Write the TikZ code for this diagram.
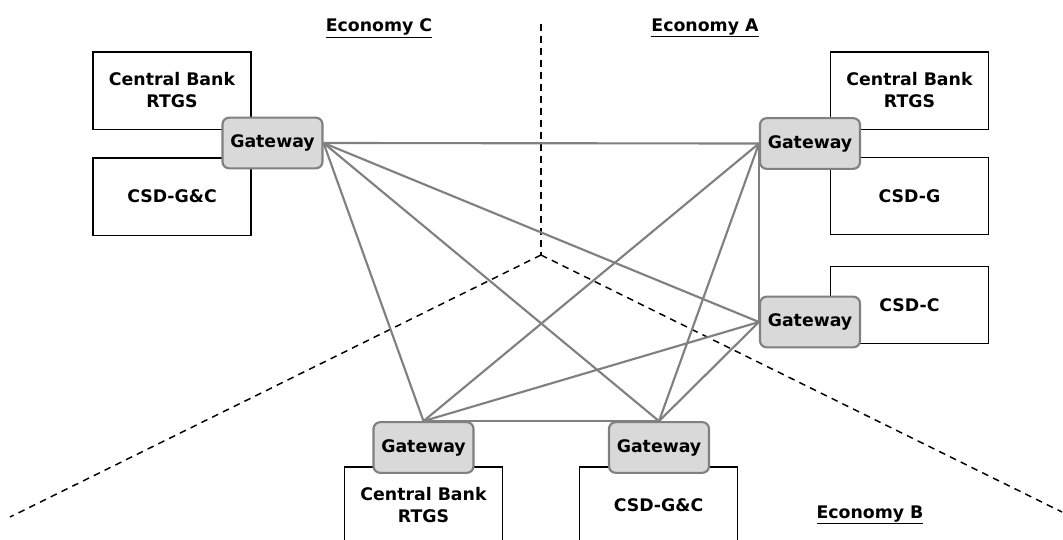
\documentclass[tikz,border=0pt]{standalone}
\usepackage{fontspec}
\setmainfont{DejaVu Sans}
\usetikzlibrary{positioning}
\definecolor{gwfill}{HTML}{D9D9D9}
\definecolor{gwline}{HTML}{808080}
\tikzset{font=\bfseries\fontsize{13}{16.5}\selectfont}
\tikzset{sysbox/.style={draw=black, line width=1pt, fill=white, align=center,
    minimum width=118.5pt, minimum height=58pt, inner sep=0pt}}
\tikzset{gatebox/.style={draw=gwline, line width=1.6pt, fill=gwfill,
    rounded corners=5pt, minimum width=75pt, minimum height=38pt, inner sep=0pt}}
\tikzset{link/.style={draw=gwline, line width=1.6pt}}
\tikzset{border/.style={dashed, line width=1.1pt, dash pattern=on 5pt off 4pt}}

\begin{document}
\begin{tikzpicture}[x=0.75pt, y=-0.75pt]
  \useasboundingbox (0,0) rectangle (1063,539);
  \clip (0,0) rectangle (1063,539);

  % borders between the economies
  \coordinate (mid) at (541,255);
  \coordinate (top) at (541,24);
  \coordinate (lend) at (10,517);
  \coordinate (rend) at (1062,512);
  \draw[border] (top) -- (mid);
  \draw[border] (mid) -- (lend);
  \draw[border] (mid) -- (rend);

  \node (ecoC) at (379,28) {\underline{Economy C}};
  \node (ecoA) at (705,28) {\underline{Economy A}};
  \node (ecoB) at (870,515) {\underline{Economy B}};

  % economy C
  \node[sysbox] (rtgsC) at (172,90.5) {Central Bank\\RTGS};
  \node[sysbox] (csdC) at (172,196.5) {CSD-G\&C};
  \node[gatebox] (gwC) at (272.5,143) {Gateway};

  % economy A
  \node[sysbox] (rtgsA) at (909.5,90.5) {Central Bank\\RTGS};
  \node[sysbox] (csdgA) at (909.5,196) {CSD-G};
  \node[sysbox] (csdcA) at (909.5,305) {CSD-C};
  \node[gatebox] (gwA) at (810,143.5) {Gateway};
  \node[gatebox] (gwAc) at (810,322) {Gateway};

  % economy B
  \node[sysbox] (rtgsB) at (423.5,505.5) {Central Bank\\RTGS};
  \node[sysbox] (csdB) at (658.5,505.5) {CSD-G\&C};
  \node[gatebox] (gwB) at (423.5,447.5) {Gateway};
  \node[gatebox] (gwBc) at (659,447.5) {Gateway};

  % links
  \draw[link] (gwC.east) -- (gwA.west);
  \draw[link] (gwC.east) -- (gwAc.west);
  \draw[link] (gwC.east) -- (gwB.north);
  \draw[link] (gwC.east) -- (gwBc.north);
  \draw[link] (gwA.west) -- (gwAc.west);
  \draw[link] (gwA.west) -- (gwB.north);
  \draw[link] (gwA.west) -- (gwBc.north);
  \draw[link] (gwAc.west) -- (gwB.north);
  \draw[link] (gwAc.west) -- (gwBc.north);
  \draw[link] (gwB.north) -- (gwBc.north);
\end{tikzpicture}
\end{document}
